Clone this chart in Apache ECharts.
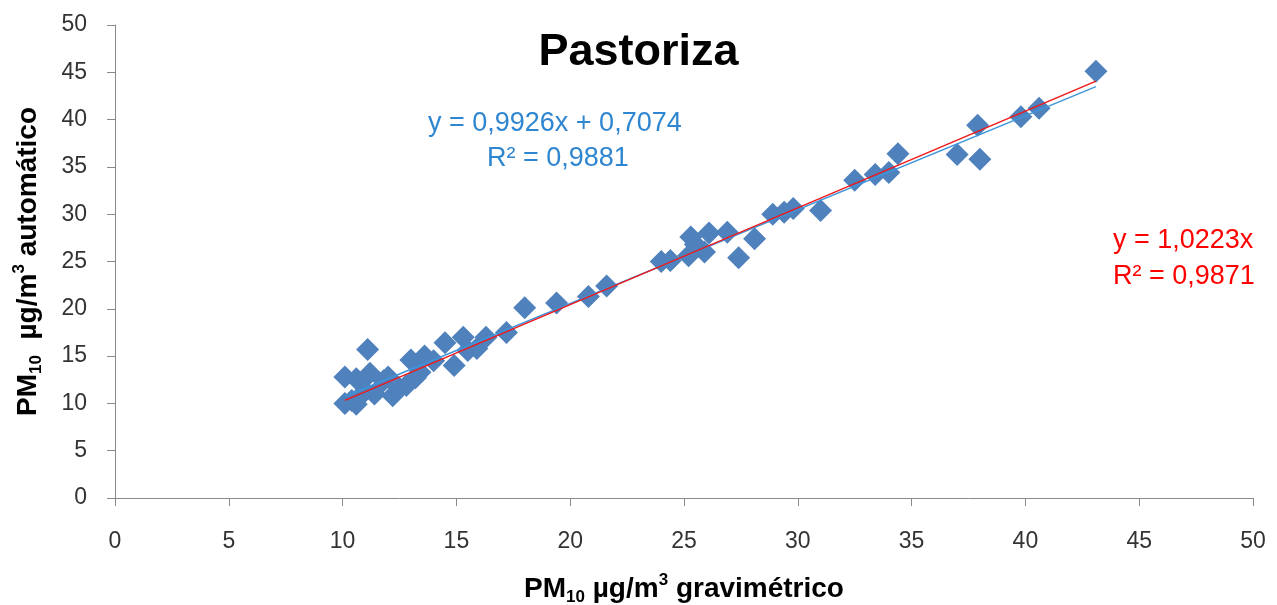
<!DOCTYPE html>
<html>
<head>
<meta charset="utf-8">
<title>Pastoriza</title>
<script src="https://cdn.jsdelivr.net/npm/echarts@6/dist/echarts.min.js"></script>
<style>
  html, body { margin: 0; padding: 0; background: #fff; }
  #chart { width: 1277px; height: 605px; }
</style>
</head>
<body>
<div id="chart"></div>
<script>
// gravimetric (x) vs automatic (y) PM10
const gravimetrico = [10.1, 10.1, 10.4, 10.6, 10.6, 11.0, 11.1, 11.2, 11.4, 11.8, 12.0, 12.2, 12.5, 12.8,
  13.0, 13.2, 13.4, 13.6, 14.0, 14.5, 14.9, 15.3, 15.5, 15.9, 16.3, 17.2, 18.0, 19.4, 20.8, 21.6,
  24.0, 24.4, 25.2, 25.3, 25.5, 25.9, 26.1, 26.9, 27.4, 28.1, 28.9, 29.4, 29.8, 31.0,
  32.5, 33.4, 34.0, 34.4, 37.0, 38.0, 37.9, 39.8, 40.6, 43.1];
const automatico = [10.0, 12.8, 10.3, 9.9, 12.6, 11.3, 15.7, 13.2, 11.0, 12.4, 12.8, 10.8, 11.6, 11.9,
  14.6, 12.7, 13.3, 15.0, 14.5, 16.4, 14.0, 17.0, 15.6, 15.8, 17.0, 17.5, 20.1, 20.6, 21.3, 22.4,
  25.0, 25.1, 25.6, 27.6, 26.8, 26.0, 28.0, 28.1, 25.4, 27.4, 30.0, 30.2, 30.6, 30.4,
  33.6, 34.2, 34.4, 36.4, 36.3, 35.8, 39.4, 40.3, 41.2, 45.1];

// trendline coefficients shown on the chart
const linSlope = 0.9926, linIntercept = 0.7074;   // y = 0,9926x + 0,7074
const originSlope = 1.0223;                          // y = 1,0223x
const xTicks = [0, 5, 10, 15, 20, 25, 30, 35, 40, 45, 50];

const points = gravimetrico.map((x, i) => [x, automatico[i]]);
const xMin = Math.min(...gravimetrico), xMax = Math.max(...gravimetrico);
const linLine = [[xMin, linSlope * xMin + linIntercept], [xMax, linSlope * xMax + linIntercept]];
const originLine = [[xMin, originSlope * xMin], [xMax, originSlope * xMax]];

const font = 'Liberation Sans';
const axisColor = '#898989';

const nameRich = {
  b: { fontFamily: font, fontSize: 28, fontWeight: 'bold', color: '#000', lineHeight: 34, verticalAlign: 'middle' },
  s: { fontFamily: font, fontSize: 17, fontWeight: 'bold', color: '#000', lineHeight: 34, verticalAlign: 'bottom', padding: [11, 0, 0, 0] },
  p: { fontFamily: font, fontSize: 17, fontWeight: 'bold', color: '#000', lineHeight: 34, verticalAlign: 'top', padding: [0, 0, 11, 0] }
};

const chart = echarts.init(document.getElementById('chart'));
chart.setOption({
  animation: false,
  backgroundColor: '#fff',
  title: {
    text: 'Pastoriza',
    left: 'center',
    top: 25,
    textStyle: { fontFamily: font, fontSize: 45, fontWeight: 'bold', color: '#000' }
  },
  grid: { left: 115, right: 24, top: 25, bottom: 107, outerBoundsMode: 'none', containLabel: false },
  xAxis: {
    type: 'value',
    min: 0, max: 50, interval: 5,
    name: '{b|PM}{s|10}{b| µg/m}{p|3}{b| gravimétrico}',
    nameLocation: 'middle',
    nameGap: 74,
    nameTextStyle: { rich: nameRich },
    axisLine: { lineStyle: { color: axisColor, width: 1 } },
    axisTick: { show: true, length: 8, lineStyle: { color: axisColor } },
    axisLabel: { fontFamily: font, fontSize: 23, color: '#333', margin: 32, formatter: v => xTicks.includes(v) ? String(v) : '' },
    splitLine: { show: false }
  },
  yAxis: {
    type: 'value',
    min: 0, max: 50, interval: 5,
    name: '{b|PM}{s|10}{b|  µg/m}{p|3}{b| automático}',
    nameLocation: 'middle',
    nameGap: 70,
    nameRotate: 90,
    nameTextStyle: { rich: nameRich },
    axisLine: { show: true, lineStyle: { color: axisColor, width: 1 } },
    axisTick: { show: true, length: 8, lineStyle: { color: axisColor } },
    axisLabel: { fontFamily: font, fontSize: 23, color: '#333', margin: 28 },
    splitLine: { show: false }
  },
  series: [
    {
      type: 'scatter',
      data: points,
      symbol: 'diamond',
      symbolSize: [23, 23],
      itemStyle: { color: '#4F81BD', opacity: 1 },
      z: 2
    },
    {
      type: 'line',
      data: linLine,
      symbol: 'none',
      lineStyle: { color: '#3D95DB', width: 1.5 },
      z: 3
    },
    {
      type: 'line',
      data: originLine,
      symbol: 'none',
      lineStyle: { color: '#F01818', width: 1.5 },
      z: 4
    }
  ],
  graphic: [
    { type: 'text', left: 428, top: 110, style: { text: 'y = 0,9926x + 0,7074', fontFamily: font, fontSize: 27, fill: '#2F86D0' } },
    { type: 'text', left: 487, top: 145, style: { text: 'R² = 0,9881', fontFamily: font, fontSize: 27, fill: '#2F86D0' } },
    { type: 'text', left: 1113, top: 227, style: { text: 'y = 1,0223x', fontFamily: font, fontSize: 27, fill: '#FF0000' } },
    { type: 'text', left: 1113, top: 263, style: { text: 'R² = 0,9871', fontFamily: font, fontSize: 27, fill: '#FF0000' } }
  ]
});
</script>
</body>
</html>
